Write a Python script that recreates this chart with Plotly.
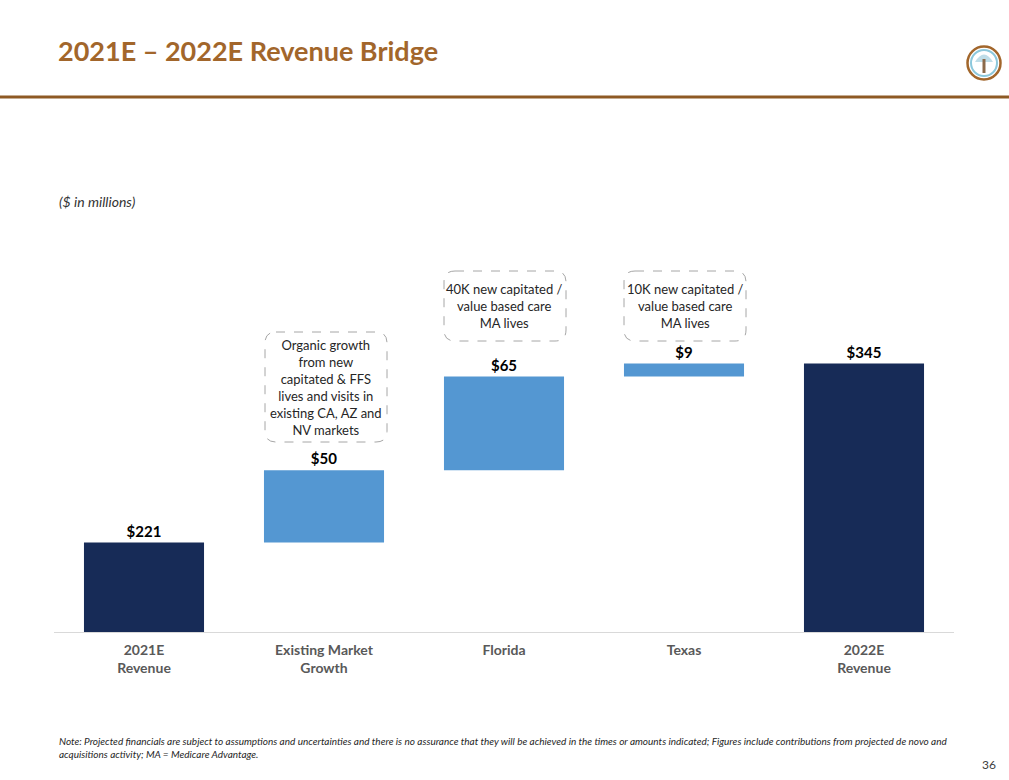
import plotly.graph_objects as go

# ---- data ----
categories = ["2021E<br>Revenue", "Existing Market<br>Growth", "Florida", "Texas", "2022E<br>Revenue"]
values = [221, 50, 65, 9, 345]
measures = ["absolute", "relative", "relative", "relative", "total"]
bar_labels = [f"${v}" for v in values]
axis_min = 159
axis_max = 527.6

notes = [
    "Organic growth<br>from new<br>capitated & FFS<br>lives and visits in<br>existing CA, AZ and<br>NV markets",
    "40K new capitated /<br>value based care<br>MA lives",
    "10K new capitated /<br>value based care<br>MA lives",
]

W, H = 1009, 780
L, R, T, B = 54, 55, 100, 148
PW, PH = W - L - R, H - T - B

def px(x):
    return (x - L) / PW

def py(y):
    return (H - B - y) / PH

NAVY = "#172B57"
LIGHT = "#5497D2"
BROWN = "#A2662B"
FONT = "Lato, 'Open Sans', sans-serif"

fig = go.Figure(go.Waterfall(
    x=categories,
    y=values,
    measure=measures,
    text=bar_labels,
    textposition="outside",
    textfont=dict(family=FONT, size=15, color="#000000", weight="bold"),
    increasing=dict(marker=dict(color=LIGHT)),
    decreasing=dict(marker=dict(color=LIGHT)),
    totals=dict(marker=dict(color=NAVY)),
    connector=dict(visible=False),
    cliponaxis=False,
    hoverinfo="skip",
))

def rounded_rect(x0, y0, x1, y1, r=10):
    X = lambda v: px(v)
    Y = lambda v: py(v)
    return (f"M {X(x0+r)},{Y(y0)} L {X(x1-r)},{Y(y0)} Q {X(x1)},{Y(y0)} {X(x1)},{Y(y0+r)} "
            f"L {X(x1)},{Y(y1-r)} Q {X(x1)},{Y(y1)} {X(x1-r)},{Y(y1)} "
            f"L {X(x0+r)},{Y(y1)} Q {X(x0)},{Y(y1)} {X(x0)},{Y(y1-r)} "
            f"L {X(x0)},{Y(y0+r)} Q {X(x0)},{Y(y0)} {X(x0+r)},{Y(y0)} Z")

shapes = []
annotations = []
boxes = [(265, 332, 387, 442), (444, 271, 566, 341), (624, 271, 746, 341)]
for (x0, y0, x1, y1), txt in zip(boxes, notes):
    shapes.append(dict(type="path", xref="paper", yref="paper", path=rounded_rect(x0, y0, x1, y1, 11),
                       line=dict(color="#A6A6A6", width=1, dash="dash"), layer="above"))
    annotations.append(dict(xref="paper", yref="paper", x=px((x0 + x1) / 2), y=py((y0 + y1) / 2),
                            text=txt, showarrow=False, xanchor="center", yanchor="middle",
                            font=dict(family=FONT, size=13, color="#262626")))

# header line
shapes.append(dict(type="line", xref="paper", yref="paper", x0=px(0), x1=px(W), y0=py(97), y1=py(97),
                   line=dict(color="#8E5A24", width=3)))

# logo
cx, cy = 984, 63
def circ(r, color, width):
    return dict(type="circle", xref="paper", yref="paper", x0=px(cx - r), x1=px(cx + r),
                y0=py(cy + r), y1=py(cy - r), line=dict(color=color, width=width))
shapes.append(circ(16.5, "#A2662B", 2.5))
shapes.append(circ(13, "#8CC8DC", 2))
shapes.append(dict(type="path", xref="paper", yref="paper",
                   path=f"M {px(cx-9)},{py(cy-1)} Q {px(cx)},{py(cy-16)} {px(cx+9)},{py(cy-1)} Z",
                   fillcolor="#BFDDE8", line=dict(width=0)))
shapes.append(dict(type="rect", xref="paper", yref="paper", x0=px(cx - 1.5), x1=px(cx + 1.5),
                   y0=py(cy + 10), y1=py(cy - 4), fillcolor="#8C6A4A", line=dict(width=0)))

# title and texts
annotations += [
    dict(xref="paper", yref="paper", x=px(56), y=py(50), xanchor="left", yanchor="middle",
         text="<b>2021E – 2022E Revenue Bridge</b>", showarrow=False,
         font=dict(family=FONT, size=27, color=BROWN)),
    dict(xref="paper", yref="paper", x=px(57), y=py(201), xanchor="left", yanchor="middle",
         text="<i>($ in millions)</i>", showarrow=False,
         font=dict(family=FONT, size=14, color="#333333")),
    dict(xref="paper", yref="paper", x=px(57), y=py(747), xanchor="left", yanchor="middle", align="left",
         text="<i>Note: Projected financials are subject to assumptions and uncertainties and there is no assurance that they will be achieved in the times or amounts indicated; Figures include contributions from projected de novo and<br>acquisitions activity; MA = Medicare Advantage.</i>",
         showarrow=False, font=dict(family=FONT, size=10, color="#262626")),
    dict(xref="paper", yref="paper", x=px(998), y=py(764), xanchor="right", yanchor="middle",
         text="36", showarrow=False, font=dict(family=FONT, size=12, color="#404040")),
]

fig.update_layout(
    width=W, height=H,
    margin=dict(l=L, r=R, t=T, b=B),
    paper_bgcolor="white", plot_bgcolor="white",
    showlegend=False,
    waterfallgap=0.333,
    shapes=shapes,
    annotations=annotations,
    xaxis=dict(showgrid=False, showline=True, linecolor="#D9D9D9", linewidth=1, ticks="",
               ticklabelstandoff=5,
               tickfont=dict(family=FONT, size=14, color="#595959", weight="bold")),
    yaxis=dict(range=[axis_min, axis_max], visible=False, showgrid=False, zeroline=False),
)

fig.write_html("out.html", config={"displayModeBar": False},
               post_script="document.body.style.margin='0';")
